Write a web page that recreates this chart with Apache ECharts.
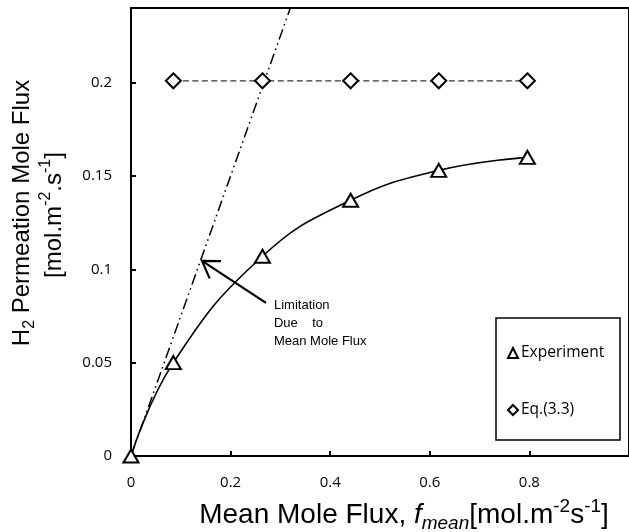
<!DOCTYPE html>
<html>
<head>
<meta charset="utf-8">
<script src="https://cdn.jsdelivr.net/npm/echarts@6/dist/echarts.min.js"></script>
<style>
  html, body { margin: 0; padding: 0; background: #fff; }
  #chart { width: 629px; height: 532px; }
</style>
</head>
<body>
<div id="chart"></div>
<script>
// Measured H2 permeation flux against mean mole flux
const fluxMean = [0, 0.085, 0.264, 0.441, 0.618, 0.796];
const experimentFlux = [0, 0.050, 0.107, 0.137, 0.153, 0.160];

// Eq.(3.3) prediction
const eqFluxMean = [0.085, 0.264, 0.441, 0.618, 0.796];
const eqFlux = [0.201, 0.201, 0.201, 0.201, 0.201];

// Limitation due to mean mole flux (straight line through the origin)
const limitFluxMean = [0, 0.32];
const limitFlux = [0, 0.24];

// Axes
const xAxisRange = [0, 1.0];
const xTickStep = 0.2;
const yAxisRange = [0, 0.24];
const yTickStep = 0.05;

// Annotation
const annotationLines = ['Limitation', 'Due    to', 'Mean Mole Flux'];
const arrowTip = [0.1426, 0.1045];
const arrowTail = [0.271, 0.082];

const legendNames = ['Experiment', 'Eq.(3.3)'];

const zip = (xs, ys) => xs.map((x, i) => [x, ys[i]]);

const chart = echarts.init(document.getElementById('chart'), null, { renderer: 'canvas' });

const tickFont = { fontFamily: 'Open Sans', fontSize: 15, color: '#000' };
const titleFont = 'Liberation Sans';

chart.setOption({
  animation: false,
  backgroundColor: '#fff',
  grid: {
    left: 131, top: 8, right: -7, bottom: 76,
    show: true, borderColor: '#000', borderWidth: 2, backgroundColor: 'transparent'
  },
  xAxis: {
    type: 'value', min: xAxisRange[0], max: xAxisRange[1], interval: xTickStep,
    axisLine: { show: true, lineStyle: { color: '#000', width: 2 } },
    axisTick: { show: true, inside: true, length: 5, lineStyle: { color: '#000', width: 2 } },
    axisLabel: Object.assign({ margin: 19, showMaxLabel: false }, tickFont),
    splitLine: { show: false }
  },
  yAxis: {
    type: 'value', min: yAxisRange[0], max: yAxisRange[1], interval: yTickStep,
    axisLine: { show: true, lineStyle: { color: '#000', width: 2 } },
    axisTick: { show: true, inside: true, length: 5, lineStyle: { color: '#000', width: 2 } },
    axisLabel: Object.assign({ margin: 19, showMaxLabel: false }, tickFont),
    splitLine: { show: false }
  },
  legend: {
    orient: 'vertical', left: 502, top: 340,
    itemWidth: 10, itemHeight: 10, itemGap: 41,
    data: [
      { name: legendNames[0], icon: 'triangle' },
      { name: legendNames[1], icon: 'diamond' }
    ],
    itemStyle: { color: '#fff', borderColor: '#000', borderWidth: 2 },
    textStyle: { fontFamily: 'Open Sans', fontSize: 15.5, color: '#000', lineHeight: 16, padding: [0, 0, 0, -2] },
    selectedMode: false,
    z: 10
  },
  series: [
    {
      name: 'limit',
      type: 'line',
      data: zip(limitFluxMean, limitFlux),
      symbol: 'none',
      lineStyle: { color: '#000', width: 1.5, type: [11, 4, 1.5, 4, 1.5, 4] },
      z: 2
    },
    {
      name: legendNames[1],
      type: 'line',
      data: zip(eqFluxMean, eqFlux),
      symbol: 'diamond', symbolSize: [15, 15],
      itemStyle: { color: '#fff', borderColor: '#000', borderWidth: 2 },
      lineStyle: { color: '#333', width: 1.3, type: [6, 3.5] },
      z: 3
    },
    {
      name: legendNames[0],
      type: 'line',
      data: zip(fluxMean, experimentFlux),
      smooth: 0.45,
      clip: false,
      symbol: 'triangle', symbolSize: [15, 13],
      itemStyle: { color: '#fff', borderColor: '#000', borderWidth: 2 },
      lineStyle: { color: '#000', width: 1.6 },
      z: 4
    }
  ]
});

// Annotation arrow, text, legend frame and axis titles
const tip = chart.convertToPixel({ gridIndex: 0 }, arrowTip);
const tail = chart.convertToPixel({ gridIndex: 0 }, arrowTail);
const dx = tail[0] - tip[0], dy = tail[1] - tip[1];
const len = Math.hypot(dx, dy);
const ux = dx / len, uy = dy / len;
const armLen = 19, armAng = 33 * Math.PI / 180;
const arm = (a) => [tip[0] + armLen * (ux * Math.cos(a) - uy * Math.sin(a)),
                    tip[1] + armLen * (ux * Math.sin(a) + uy * Math.cos(a))];

function titleRich(size, small) {
  const base = { fontFamily: titleFont, fill: '#000' };
  return {
    n: Object.assign({ fontSize: size, lineHeight: size + 8, verticalAlign: 'middle' }, base),
    it: Object.assign({ fontSize: size, lineHeight: size + 8, fontStyle: 'italic', verticalAlign: 'middle' }, base),
    sub: Object.assign({ fontSize: small, lineHeight: small, verticalAlign: 'bottom' }, base),
    subIt: Object.assign({ fontSize: small, lineHeight: small, fontStyle: 'italic', verticalAlign: 'bottom' }, base),
    sup: Object.assign({ fontSize: small, lineHeight: small, verticalAlign: 'top' }, base)
  };
}
const yRich = titleRich(24, 16);
const xRich = titleRich(28, 19);

chart.setOption({
  graphic: [
    {
      type: 'rect', z: 5,
      shape: { x: 496, y: 318, width: 124, height: 122 },
      style: { fill: '#fff', stroke: '#000', lineWidth: 1.5 }
    },
    {
      type: 'polyline', z: 20,
      shape: { points: [tail, tip] },
      style: { stroke: '#000', lineWidth: 2.2, fill: null }
    },
    {
      type: 'polyline', z: 20,
      shape: { points: [arm(armAng), tip, arm(-armAng)] },
      style: { stroke: '#000', lineWidth: 2.2, fill: null }
    },
    {
      type: 'text', z: 20,
      x: tail[0] + 8, y: tail[1] - 7,
      style: {
        text: annotationLines.join('\n'),
        fontFamily: titleFont, fontSize: 13, lineHeight: 18, fill: '#000',
        align: 'left', verticalAlign: 'top'
      }
    },
    {
      type: 'text', z: 20,
      x: 22, y: 213, rotation: Math.PI / 2,
      style: {
        text: '{n|H}{sub|2}{n| Permeation Mole Flux}',
        rich: yRich, align: 'center', verticalAlign: 'middle'
      }
    },
    {
      type: 'text', z: 20,
      x: 54, y: 215, rotation: Math.PI / 2,
      style: {
        text: '{n|[mol.m}{sup|-2}{n|.s}{sup|-1}{n|]}',
        rich: yRich, align: 'center', verticalAlign: 'middle'
      }
    },
    {
      type: 'text', z: 20,
      x: 404, y: 515,
      style: {
        text: '{n|Mean Mole Flux, }{it|f}{subIt|mean}{n|[mol.m}{sup|-2}{n|s}{sup|-1}{n|]}',
        rich: xRich, align: 'center', verticalAlign: 'middle'
      }
    }
  ]
});
</script>
</body>
</html>
